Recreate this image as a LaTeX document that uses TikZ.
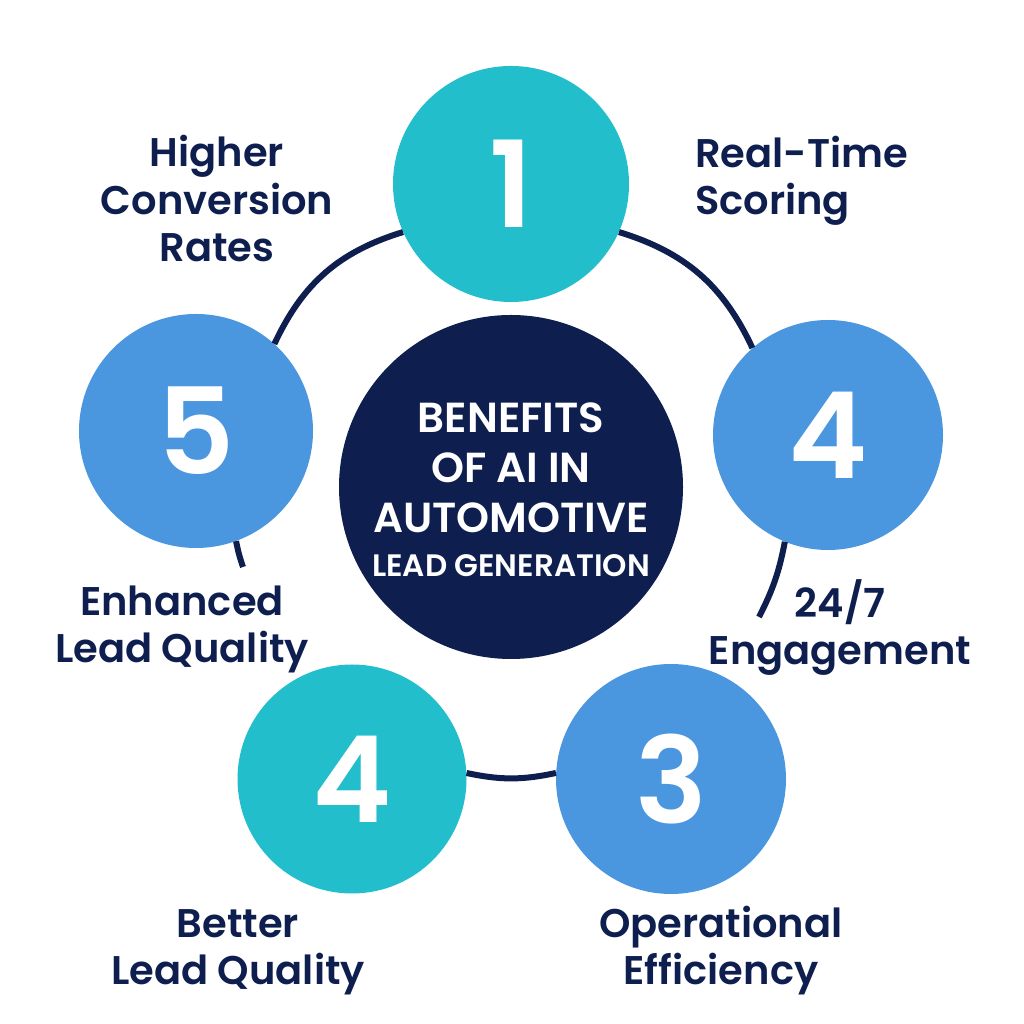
\documentclass[tikz,border=0pt]{standalone}
\usepackage{fontspec}
\setmainfont{Poppins}[BoldFont={Poppins SemiBold}]
\definecolor{navy}{RGB}{14,31,79}
\definecolor{aqua}{RGB}{35,190,204}
\definecolor{sky}{RGB}{74,151,223}
\begin{document}
\begin{tikzpicture}[x=1pt,y=1pt,
  num/.style={circle,minimum size=#1,inner sep=0pt,text=white,font=\fontsize{120}{120}\selectfont\bfseries},
  lab/.style={text=navy,inner sep=0pt,anchor=base,align=center,font=\fontsize{40}{47.5}\selectfont\bfseries},
  link/.style={draw=navy,line width=6pt}]
\useasboundingbox[fill=white] (0,0) rectangle (1024,1024);

\node[circle,fill=navy,minimum size=344,inner sep=0pt] (hub) at (511,537) {};%le centre
\node[text=white,align=center,inner sep=0pt,anchor=base,font=\fontsize{42}{50}\selectfont\bfseries] (title) at (511,447)
  {BENEFITS\\OF AI IN\\AUTOMOTIVE\\[-6pt]{\fontsize{31}{44}\selectfont LEAD GENERATION}};

\node[num=236,fill=aqua] (c1) at (511,840) {1};
\node[num=230,fill=sky] (c4r) at (828,589) {4};
\node[num=234,fill=sky] (c5) at (196,593) {5};
\node[num=229,fill=aqua] (c4b) at (352,245) {4};
\node[num=230,fill=sky] (c3) at (671,245) {3};

\coordinate (e4) at (759,407);
\coordinate (e5) at (243,457);

\draw[link] (c5.48) to[bend left=24] (c1.204);%les arcs
\draw[link] (c1.336) to[bend left=24] (c4r.131);
\draw[link] (c4r.248) to[bend left=8] (e4);
\draw[link] (c5.290) to[bend right=4] (e5);
\draw[link] (c4b.3) to[bend right=12] (c3.177);

\node[lab] (t5) at (217,762) {Higher\\Conversion\\Rates};%les textes
\node[lab,anchor=base west,align=left] (t1) at (695,809) {Real-Time\\Scoring};
\node[lab] (t5b) at (182,361) {Enhanced\\Lead Quality};
\node[lab] (t4r) at (840,359) {24/7\\Engagement};
\node[lab] (t4b) at (238,39) {Better\\Lead Quality};
\node[lab] (t3) at (721,39) {Operational\\Efficiency};
\end{tikzpicture}
\end{document}
